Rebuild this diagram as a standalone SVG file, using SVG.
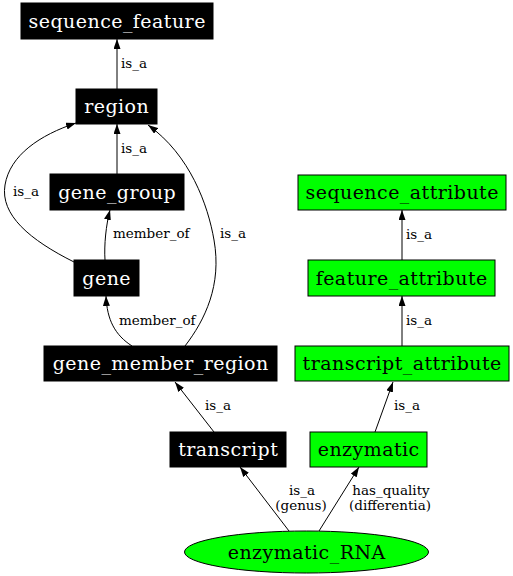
<svg xmlns="http://www.w3.org/2000/svg" width="513" height="576" viewBox="0 0 513 576">
<style>
.bk rect{fill:#000;stroke:#000;stroke-width:1}
.gr rect,.gr ellipse{fill:#00ff00;stroke:#000;stroke-width:1}
.bk text{fill:#fff}
.gr text{fill:#000}
.node text{font-family:"DejaVu Serif",serif;font-size:19px;letter-spacing:0.45px;text-anchor:middle}
.edges path{fill:none;stroke:#000;stroke-width:1;marker-end:url(#ah)}
.edges text{font-family:"DejaVu Serif",serif;font-size:13.5px;fill:#000}
</style>
<defs>
<marker id="ah" markerUnits="userSpaceOnUse" markerWidth="10" markerHeight="7" refX="10" refY="3.5" orient="auto">
<path d="M0,0 L10,3.5 L0,7 z" fill="#000"/>
</marker>
</defs>
<rect width="513" height="576" fill="#fff"/>
<g class="edges">
<path d="M117,89 L117,39"/>
<text x="121" y="68">is_a</text>
<path d="M117,174 L117,124"/>
<text x="121" y="153">is_a</text>
<path d="M105,260 C104,245 106,225 110,210"/>
<text x="113" y="238">member_of</text>
<path d="M74,262 C30,240 0,215 5,185 C10,155 40,135 76,123"/>
<text x="13" y="196">is_a</text>
<path d="M185,346 C205,320 222,285 214,240 C208,205 190,155 148,125"/>
<text x="220" y="238">is_a</text>
<path d="M132,346 C115,335 107,320 106,296"/>
<text x="119" y="325">member_of</text>
<path d="M214,432 L175,382"/>
<text x="205" y="410">is_a</text>
<path d="M289,531 L240,467"/>
<text x="302" y="495" text-anchor="middle">is_a</text>
<text x="301" y="510" text-anchor="middle">(genus)</text>
<path d="M319,531 L359,467"/>
<text x="391" y="495" text-anchor="middle">has_quality</text>
<text x="390" y="510" text-anchor="middle">(differentia)</text>
<path d="M375,432 L393,382"/>
<text x="394" y="410">is_a</text>
<path d="M402,346 L402,296"/>
<text x="406" y="325">is_a</text>
<path d="M402,260 L402,210"/>
<text x="406" y="239">is_a</text>
</g>
<g id="sequence_feature" class="node bk"><rect x="21" y="3" width="192" height="36"/><text x="117.2" y="27.5">sequence_feature</text></g>
<g id="region" class="node bk"><rect x="76" y="89" width="81" height="35"/><text x="116.7" y="113">region</text></g>
<g id="gene_group" class="node bk"><rect x="50" y="174" width="134" height="36"/><text x="117.2" y="198.5">gene_group</text></g>
<g id="gene" class="node bk"><rect x="74" y="260" width="65" height="36"/><text x="106.7" y="284.5">gene</text></g>
<g id="gene_member_region" class="node bk"><rect x="44" y="346" width="233" height="35"/><text x="160.7" y="370">gene_member_region</text></g>
<g id="transcript" class="node bk"><rect x="170" y="432" width="116" height="35"/><text x="228.2" y="456">transcript</text></g>
<g id="enzymatic" class="node gr"><rect x="310" y="432" width="117" height="35"/><text x="368.7" y="456">enzymatic</text></g>
<g id="transcript_attribute" class="node gr"><rect x="295" y="346" width="214" height="35"/><text x="402.2" y="370">transcript_attribute</text></g>
<g id="feature_attribute" class="node gr"><rect x="308" y="260" width="187" height="36"/><text x="401.7" y="284.5">feature_attribute</text></g>
<g id="sequence_attribute" class="node gr"><rect x="298" y="175" width="208" height="35"/><text x="402.2" y="199">sequence_attribute</text></g>
<g id="enzymatic_RNA" class="node gr"><ellipse cx="306.5" cy="552" rx="122" ry="21"/><text x="306.7" y="558.5">enzymatic_RNA</text></g>
</svg>
